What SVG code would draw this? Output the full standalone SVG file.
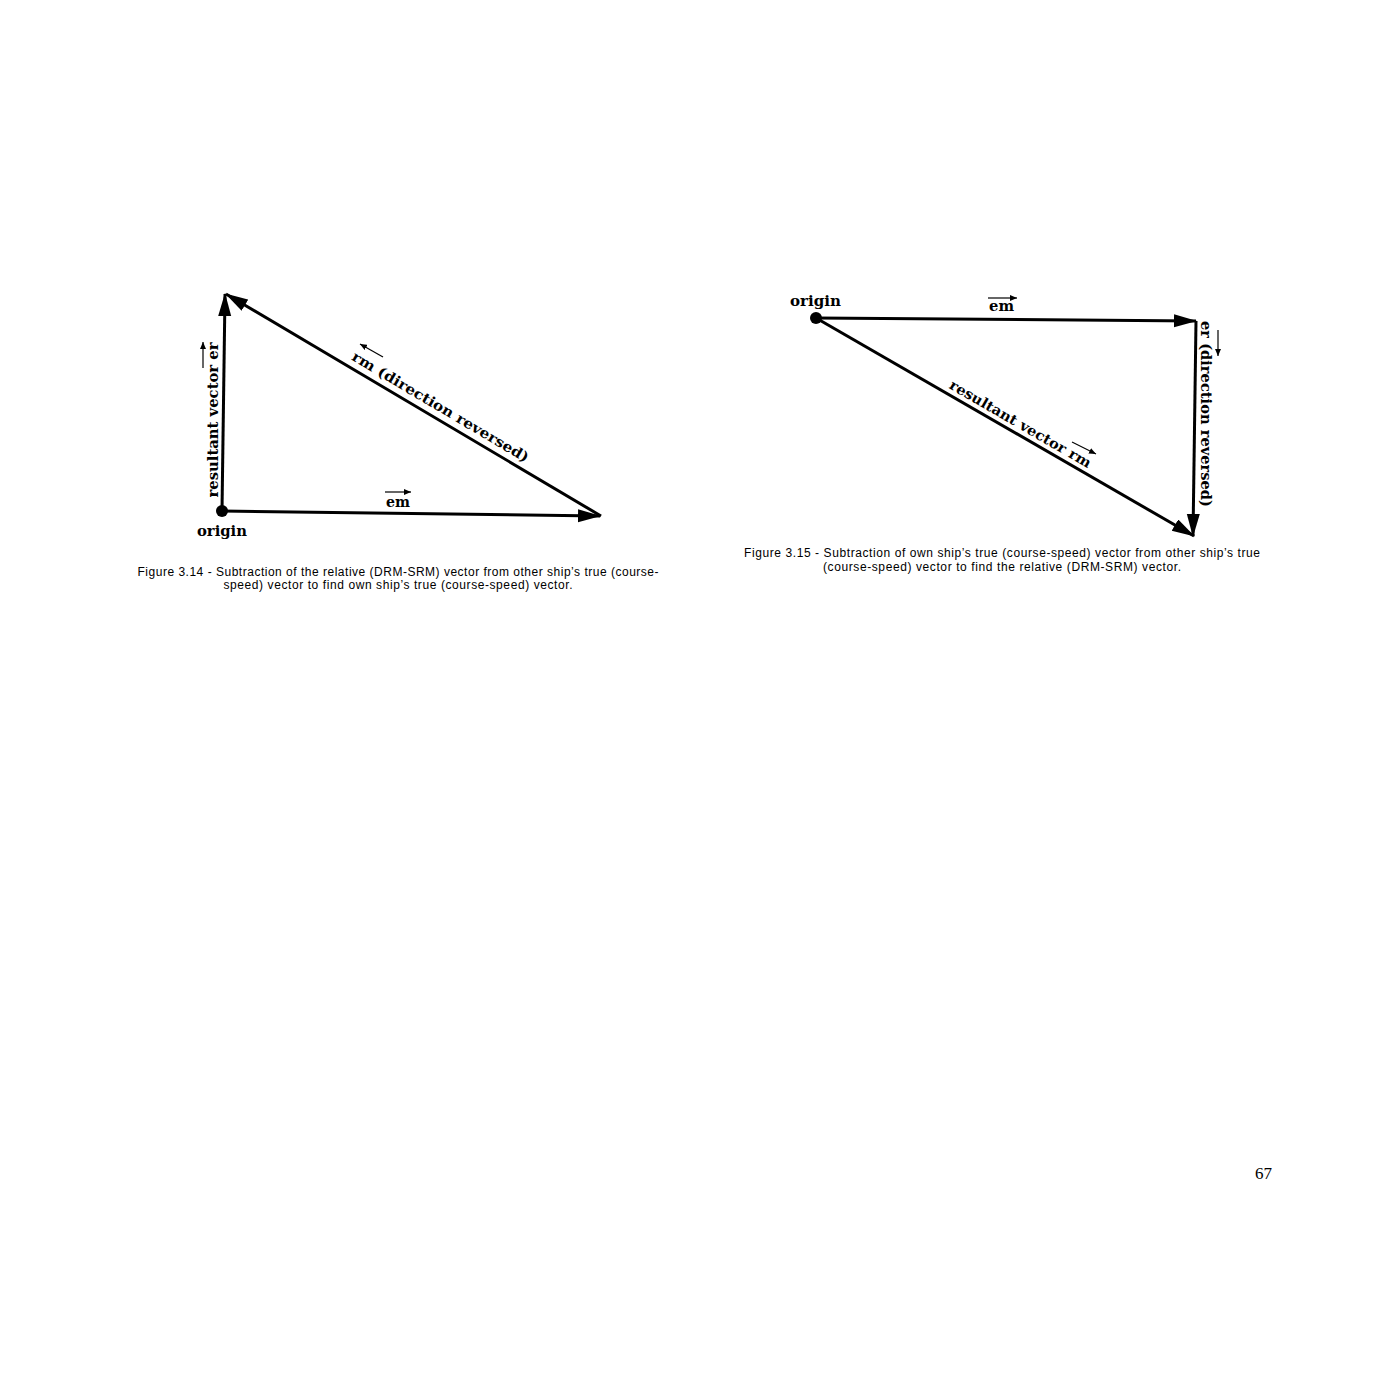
<svg xmlns="http://www.w3.org/2000/svg" width="1400" height="1400" viewBox="0 0 1400 1400">
<style>
.vec{stroke:#000;stroke-width:3;fill:none}
.thin{stroke:#000;stroke-width:1.2;fill:none}
.lbl{font-family:"DejaVu Serif","Liberation Serif",serif;font-weight:bold;font-size:14px;fill:#000}
.cap{font-family:"Liberation Sans",Arial,sans-serif;font-size:12px;fill:#000;text-anchor:middle}
.pg{font-family:"Liberation Serif","Times New Roman",serif;font-size:17px;fill:#000}
</style>
<defs>
<marker id="ah" markerUnits="userSpaceOnUse" markerWidth="24" markerHeight="14" refX="22" refY="6.5" orient="auto">
<path d="M0,0 L23,6.5 L0,13 z" fill="#000"/>
</marker>
<marker id="sm" markerUnits="userSpaceOnUse" markerWidth="8" markerHeight="6" refX="7" refY="3" orient="auto">
<path d="M0,0 L7,3 L0,6 z" fill="#000"/>
</marker>
</defs>
<rect width="1400" height="1400" fill="#fff"/>

<g id="connectors">
<!-- Figure 3.14 -->
<line class="vec" x1="222" y1="511" x2="225" y2="294" marker-end="url(#ah)"/>
<line class="vec" x1="601" y1="516" x2="226" y2="294" marker-end="url(#ah)"/>
<line class="vec" x1="222" y1="511" x2="600" y2="516" marker-end="url(#ah)"/>
<!-- Figure 3.15 -->
<line class="vec" x1="816" y1="318" x2="1196" y2="321" marker-end="url(#ah)"/>
<line class="vec" x1="1196" y1="321" x2="1193" y2="536" marker-end="url(#ah)"/>
<line class="vec" x1="816" y1="318" x2="1194" y2="536" marker-end="url(#ah)"/>
</g>

<g id="fig314">
<g id="origin1">
<circle cx="222" cy="511" r="6" fill="#000"/>
<text class="lbl" x="197" y="536" textLength="50" lengthAdjust="spacingAndGlyphs">origin</text>
</g>
<g id="label-er1">
<text class="lbl" transform="translate(218,420) rotate(-90)" text-anchor="middle" textLength="155" lengthAdjust="spacingAndGlyphs">resultant vector er</text>
<line class="thin" x1="203" y1="368" x2="203" y2="342" marker-end="url(#sm)"/>
</g>
<g id="label-rm1">
<text class="lbl" transform="translate(438,411) rotate(30.6)" text-anchor="middle" textLength="203" lengthAdjust="spacingAndGlyphs">rm  (direction reversed)</text>
<line class="thin" x1="383" y1="357" x2="360" y2="344" marker-end="url(#sm)"/>
</g>
<g id="label-em1">
<text class="lbl" x="386" y="507" textLength="24" lengthAdjust="spacingAndGlyphs">em</text>
<line class="thin" x1="385" y1="492" x2="411" y2="492" marker-end="url(#sm)"/>
</g>
<text class="cap" x="398" y="576" textLength="521">Figure 3.14 - Subtraction of the relative (DRM-SRM) vector from other ship’s true (course-</text>
<text class="cap" x="398" y="589" textLength="349">speed) vector to find own ship’s true (course-speed) vector.</text>
</g>

<g id="fig315">
<g id="origin2">
<circle cx="816" cy="318" r="6" fill="#000"/>
<text class="lbl" x="790" y="306" textLength="51" lengthAdjust="spacingAndGlyphs">origin</text>
</g>
<g id="label-em2">
<text class="lbl" x="989" y="311" textLength="25" lengthAdjust="spacingAndGlyphs">em</text>
<line class="thin" x1="988" y1="298" x2="1017" y2="298" marker-end="url(#sm)"/>
</g>
<g id="label-rm2">
<text class="lbl" transform="translate(1018,428) rotate(30)" text-anchor="middle" textLength="161" lengthAdjust="spacingAndGlyphs">resultant vector rm</text>
<line class="thin" x1="1072" y1="442" x2="1096" y2="454" marker-end="url(#sm)"/>
</g>
<g id="label-er2">
<text class="lbl" transform="translate(1201,414) rotate(90)" text-anchor="middle" textLength="186" lengthAdjust="spacingAndGlyphs">er (direction reversed)</text>
<line class="thin" x1="1218" y1="330" x2="1218" y2="356" marker-end="url(#sm)"/>
</g>
<text class="cap" x="1002" y="557" textLength="516">Figure 3.15 - Subtraction of own ship’s true (course-speed) vector from other ship’s true</text>
<text class="cap" x="1002" y="571" textLength="358">(course-speed) vector to find the relative (DRM-SRM) vector.</text>
</g>

<text class="pg" x="1255" y="1179">67</text>
</svg>
